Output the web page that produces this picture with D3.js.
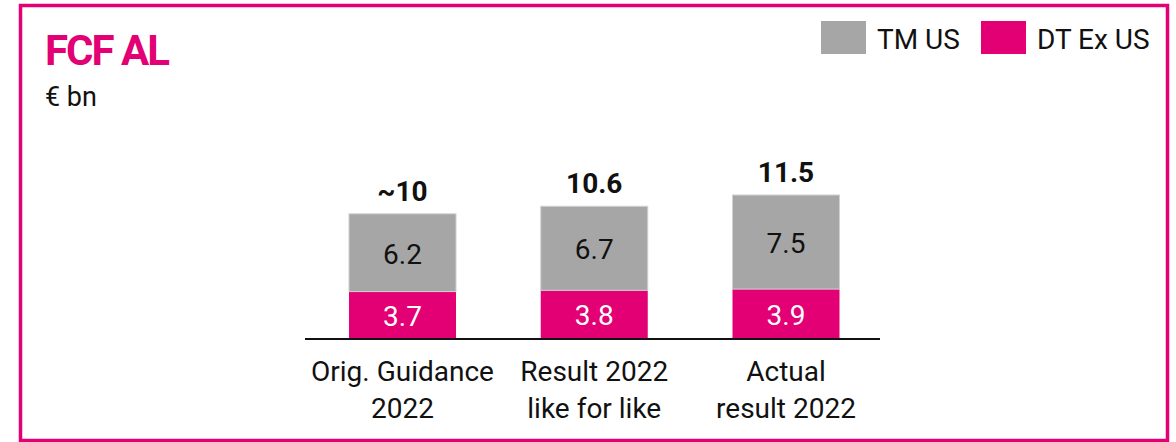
<!DOCTYPE html>
<html>
<head>
<meta charset="utf-8">
<script src="https://cdn.jsdelivr.net/npm/d3@7"></script>
<style>
  body { margin: 0; background: #fff; }
  text { font-family: Roboto, "Noto Sans", sans-serif; }
</style>
</head>
<body>
<div id="chart"></div>
<script>
// data
var categories = ["Orig. Guidance\n2022", "Result 2022\nlike for like", "Actual\nresult 2022"];
var dtExUs = [3.7, 3.8, 3.9];
var tmUs = [6.2, 6.7, 7.5];
var totalLabels = ["~10", "10.6", "11.5"];
var seriesNames = ["TM US", "DT Ex US"];

var magenta = "#E20074";
var grey = "#A6A6A6";

var W = 1176, H = 442;

var svg = d3.select("#chart").append("svg")
    .attr("width", W)
    .attr("height", H);

// rahmen
svg.append("rect")
    .attr("x", 20.5).attr("y", 5.5)
    .attr("width", 1147).attr("height", 435)
    .style("fill", "none")
    .style("stroke", magenta)
    .style("stroke-width", 3.5);

// titel
svg.append("text")
    .attr("x", 45).attr("y", 65)
    .style("font-size", "42px").style("font-weight", "bold")
    .style("fill", magenta)
    .style("letter-spacing", "-2px")
    .text("FCF AL");

svg.append("text")
    .attr("x", 45).attr("y", 106)
    .style("font-size", "27px")
    .style("fill", "#111")
    .text("€ bn");

// legende
var legend = svg.append("g");
var legX = [821, 981];
var legCol = [grey, magenta];
seriesNames.forEach(function(n, i) {
    legend.append("rect")
        .attr("x", legX[i]).attr("y", 21)
        .attr("width", 45).attr("height", 33)
        .style("fill", legCol[i]);
    legend.append("text")
        .attr("x", legX[i] + 56).attr("y", 49)
        .style("font-size", "28px")
        .style("fill", "#111")
        .text(n);
});

// skalen
var x = d3.scalePoint()
    .domain(categories)
    .range([402.5, 786]);

var y = d3.scaleLinear()
    .domain([0, 11.4])
    .range([338, 195]);

var stacks = categories.map(function(c, i) {
    return {cat: c, dt: dtExUs[i], tm: tmUs[i], total: totalLabels[i]};
});

var bw = 107;
function cx(d) { return x(d.cat); }
function bx(d) { return x(d.cat) - bw / 2; }

var g = svg.append("g");

g.selectAll(".dt")
    .data(stacks).enter().append("rect")
    .attr("x", bx)
    .attr("y", function(d) { return y(d.dt); })
    .attr("width", bw)
    .attr("height", function(d) { return y(0) - y(d.dt); })
    .style("fill", magenta);

g.selectAll(".tm")
    .data(stacks).enter().append("rect")
    .attr("x", bx)
    .attr("y", function(d) { return y(d.dt + d.tm); })
    .attr("width", bw)
    .attr("height", function(d) { return y(d.dt) - y(d.dt + d.tm); })
    .style("fill", grey)
    .style("stroke", "#d0d0d0")
    .style("stroke-width", 1);

// werte in den segmenten
g.selectAll(".dtl")
    .data(stacks).enter().append("text")
    .attr("x", cx)
    .attr("y", function(d) { return (y(0) + y(d.dt)) / 2 + 11; })
    .attr("text-anchor", "middle")
    .style("font-size", "28px")
    .style("fill", "#fff")
    .text(function(d) { return d.dt.toFixed(1); });

g.selectAll(".tml")
    .data(stacks).enter().append("text")
    .attr("x", cx)
    .attr("y", function(d) { return (y(d.dt) + y(d.dt + d.tm)) / 2 + 11; })
    .attr("text-anchor", "middle")
    .style("font-size", "28px")
    .style("fill", "#111")
    .text(function(d) { return d.tm.toFixed(1); });

// summen
g.selectAll(".tot")
    .data(stacks).enter().append("text")
    .attr("x", cx)
    .attr("y", function(d) { return y(d.dt + d.tm) - 13; })
    .attr("text-anchor", "middle")
    .style("font-size", "28px")
    .style("font-weight", "bold")
    .style("fill", "#111")
    .text(function(d) { return d.total; });

// grundlinie
svg.append("line")
    .attr("x1", 305).attr("x2", 880)
    .attr("y1", y(0) + 1).attr("y2", y(0) + 1)
    .style("stroke", "#111")
    .style("stroke-width", 2);

// kategorien
var xl = svg.append("g");
stacks.forEach(function(d) {
    var t = xl.append("text")
        .attr("x", cx(d))
        .attr("y", 381)
        .attr("text-anchor", "middle")
        .style("font-size", "28px")
        .style("fill", "#111");
    d.cat.split("\n").forEach(function(line, j) {
        t.append("tspan")
            .attr("x", cx(d))
            .attr("dy", j === 0 ? 0 : 37)
            .text(line);
    });
});
</script>
</body>
</html>
